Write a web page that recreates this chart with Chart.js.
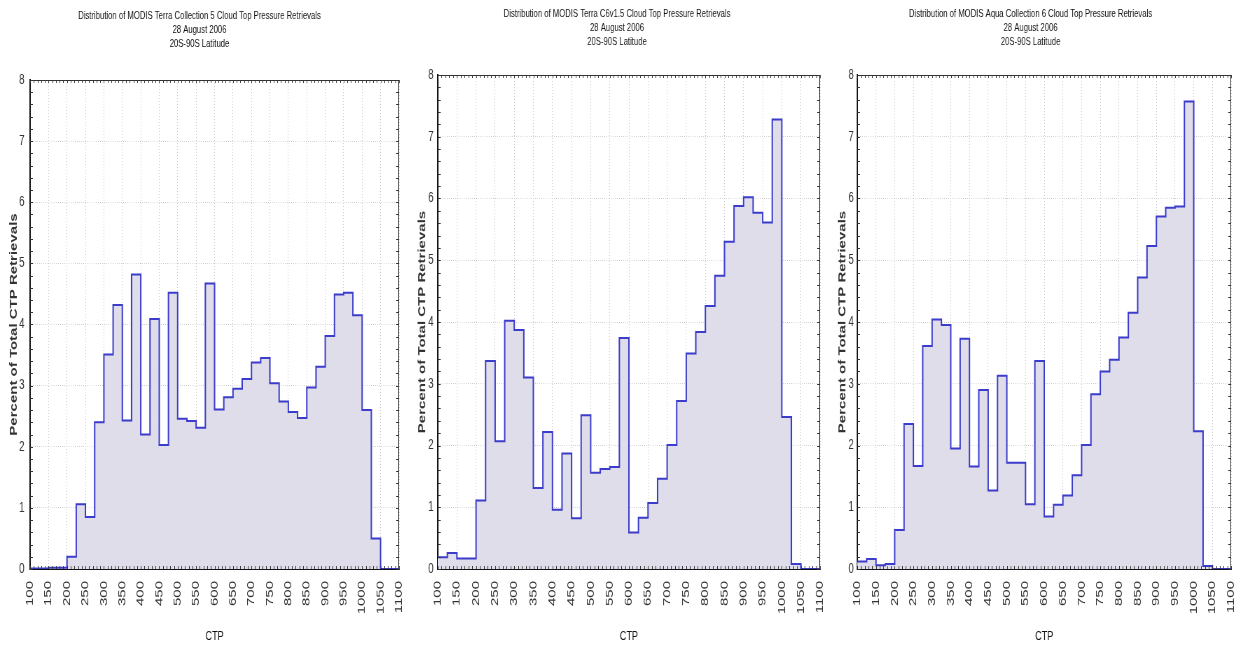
<!DOCTYPE html>
<html>
<head>
<meta charset="utf-8">
<script src="https://cdn.jsdelivr.net/npm/chart.js@4.4.1/dist/chart.umd.min.js"></script>
<style>
  html, body { margin: 0; padding: 0; background: #fff; }
  body { width: 1244px; height: 649px; position: relative; overflow: hidden; }
  /* the source image is squeezed horizontally, so every panel is drawn wide and narrowed */
  canvas { position: absolute; top: 0; transform: scaleX(0.7); transform-origin: 0 0; }
</style>
</head>
<body>
<canvas id="terraC5" width="592" height="649" style="left:0px"></canvas>
<canvas id="terraC6" width="594" height="649" style="left:414px"></canvas>
<canvas id="aquaC6" width="592" height="649" style="left:830px"></canvas>
<script>
// left edge of each 25 hPa CTP bin
const binStart = [100, 125, 150, 175, 200, 225, 250, 275, 300, 325,
  350, 375, 400, 425, 450, 475, 500, 525, 550, 575,
  600, 625, 650, 675, 700, 725, 750, 775, 800, 825,
  850, 875, 900, 925, 950, 975, 1000, 1025, 1050, 1075];
const binEnd = 1100;

// percent of total CTP retrievals per bin
const terraC5 = [0.01, 0.01, 0.02, 0.02, 0.20, 1.06, 0.85, 2.40, 3.51, 4.32,
  2.43, 4.82, 2.20, 4.09, 2.03, 4.52, 2.46, 2.42, 2.31, 4.67,
  2.61, 2.81, 2.95, 3.11, 3.38, 3.45, 3.04, 2.74, 2.57, 2.47,
  2.97, 3.31, 3.81, 4.49, 4.52, 4.15, 2.60, 0.50, 0, 0];
const terraC6 = [0.19, 0.26, 0.17, 0.17, 1.11, 3.37, 2.07, 4.02, 3.87, 3.10,
  1.31, 2.22, 0.96, 1.87, 0.82, 2.49, 1.56, 1.62, 1.65, 3.74,
  0.59, 0.83, 1.07, 1.46, 2.01, 2.72, 3.49, 3.84, 4.26, 4.75,
  5.30, 5.88, 6.02, 5.77, 5.61, 7.28, 2.46, 0.08, 0, 0];
const aquaC6 = [0.12, 0.16, 0.06, 0.08, 0.63, 2.35, 1.67, 3.61, 4.04, 3.95,
  1.95, 3.73, 1.66, 2.90, 1.27, 3.13, 1.72, 1.72, 1.05, 3.37,
  0.85, 1.04, 1.19, 1.52, 2.01, 2.83, 3.20, 3.39, 3.75, 4.15,
  4.72, 5.23, 5.71, 5.85, 5.87, 7.57, 2.23, 0.05, 0, 0];

const titleC5 = ["Distribution of MODIS Terra Collection 5 Cloud Top Pressure Retrievals", "28 August 2006", "20S-90S Latitude"];
const titleC6 = ["Distribution of MODIS Terra C6v1.5 Cloud Top Pressure Retrievals", "28 August 2006", "20S-90S Latitude"];
const titleAqua = ["Distribution of MODIS Aqua Collection 6 Cloud Top Pressure Retrievals", "28 August 2006", "20S-90S Latitude"];

const xTicks = [100, 150, 200, 250, 300, 350, 400, 450, 500, 550, 600, 650, 700, 750, 800, 850, 900, 950, 1000, 1050, 1100];
const yTicks = [0, 1, 2, 3, 4, 5, 6, 7, 8];

const sans = "'Liberation Sans', Arial, sans-serif";

// top/right frame plus small inward ticks on all four sides
const framePlugin = {
  id: "frame",
  afterDatasetsDraw(chart) {
    const { ctx, chartArea: a, scales } = chart;
    ctx.save();
    ctx.strokeStyle = "#333";
    ctx.lineWidth = 1;
    ctx.beginPath();
    ctx.moveTo(a.left, a.top + 0.5);
    ctx.lineTo(a.right - 0.5, a.top + 0.5);
    ctx.lineTo(a.right - 0.5, a.bottom);
    for (let v = 100; v <= 1100; v += 10) {
      const px = Math.round(scales.x.getPixelForValue(v)) + 0.5;
      ctx.moveTo(px, a.top);
      ctx.lineTo(px, a.top + 3);
      ctx.moveTo(px, a.bottom);
      ctx.lineTo(px, a.bottom - 3);
    }
    for (let v = 0; v <= 8.001; v += 0.2) {
      const py = Math.round(scales.y.getPixelForValue(v)) + 0.5;
      ctx.moveTo(a.right, py);
      ctx.lineTo(a.right - 4, py);
      ctx.moveTo(a.left, py);
      ctx.lineTo(a.left + 4, py);
    }
    ctx.stroke();
    ctx.restore();
  }
};

function drawPanel(id, values, titleLines, box) {
  const points = binStart.map((x, i) => ({ x: x, y: values[i] }));
  points.push({ x: binEnd, y: values[values.length - 1] });

  new Chart(document.getElementById(id), {
    type: "line",
    data: {
      datasets: [{
        data: points,
        stepped: "before",
        borderColor: "#3b3bcc",
        borderWidth: 2,
        backgroundColor: "#dedde9",
        fill: "origin",
        pointRadius: 0
      }]
    },
    options: {
      responsive: false,
      animation: false,
      devicePixelRatio: 1,
      layout: { padding: { left: 0, right: box.padRight, top: 0, bottom: 0 } },
      plugins: {
        legend: { display: false },
        tooltip: { enabled: false },
        title: {
          display: true,
          text: titleLines,
          color: "#111",
          font: { family: sans, size: 11, weight: "normal", lineHeight: 14 / 11 },
          padding: { top: box.titleTop, bottom: box.titleGap }
        }
      },
      scales: {
        x: {
          type: "linear",
          min: 100,
          max: 1100,
          afterBuildTicks: s => { s.ticks = xTicks.map(v => ({ value: v })); },
          afterFit: s => { s.height = 80; s.paddingLeft = 0; s.paddingRight = 0; },
          ticks: {
            autoSkip: false,
            minRotation: 90,
            maxRotation: 90,
            padding: 12,
            color: "#333",
            font: { family: sans, size: 15 },
            callback: v => String(v)
          },
          grid: { color: "#c9c9c9", lineWidth: 1, drawTicks: false },
          border: { display: true, color: "#111", width: 2, dash: [1, 2] },
          title: {
            display: true,
            text: "CTP",
            color: "#111",
            font: { family: sans, size: 13 },
            padding: { top: 0, bottom: 5 }
          }
        },
        y: {
          min: 0,
          max: 8,
          afterBuildTicks: s => { s.ticks = yTicks.map(v => ({ value: v })); },
          afterFit: s => { s.width = box.left; },
          ticks: {
            padding: box.tickPad,
            color: "#333",
            font: { family: sans, size: 14 }
          },
          grid: { color: "#c9c9c9", lineWidth: 1, drawTicks: false },
          border: { display: true, color: "#111", width: 2, dash: [1, 2] },
          title: {
            display: true,
            text: "Percent of Total CTP Retrievals",
            color: "#333",
            font: { family: sans, size: 15, weight: "bold" },
            padding: { top: box.yTitlePad, bottom: 0 }
          }
        }
      }
    },
    plugins: [framePlugin]
  });
}

drawPanel("terraC5", terraC5, titleC5, { left: 43, padRight: 22, titleTop: 9, titleGap: 29, yTitlePad: 11, tickPad: 8 });
drawPanel("terraC6", terraC6, titleC6, { left: 34, padRight: 14, titleTop: 7, titleGap: 26, yTitlePad: 3, tickPad: 6 });
drawPanel("aquaC6", aquaC6, titleAqua, { left: 39, padRight: 19, titleTop: 7, titleGap: 26, yTitlePad: 9, tickPad: 5 });
</script>
</body>
</html>
